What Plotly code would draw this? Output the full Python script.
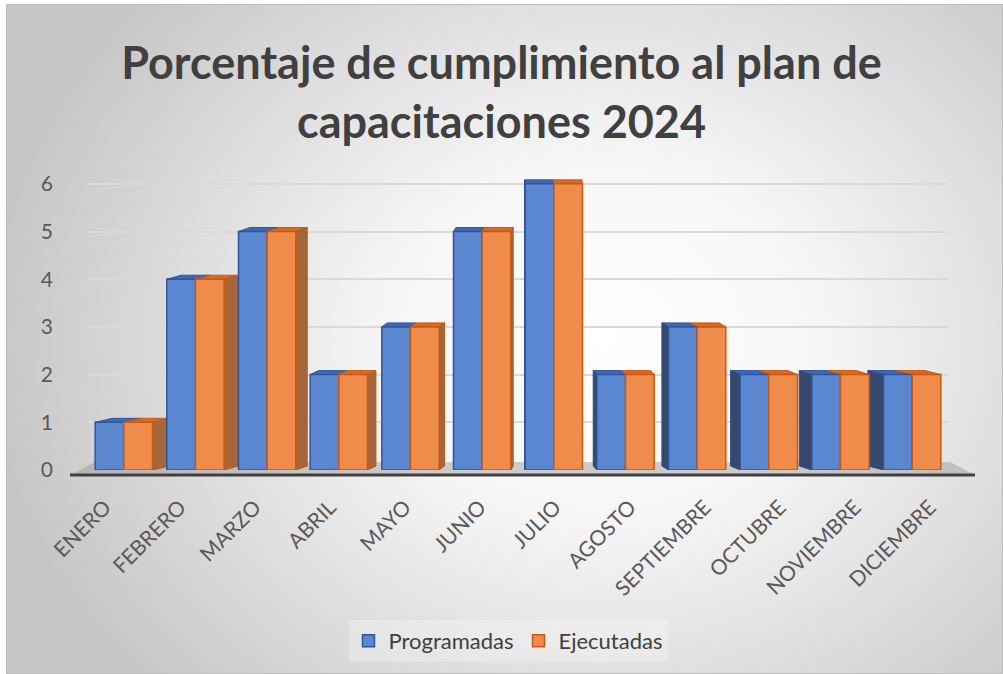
import base64
import plotly.graph_objects as go

# Monthly training sessions: planned vs. delivered
meses = ["ENERO", "FEBRERO", "MARZO", "ABRIL", "MAYO", "JUNIO",
         "JULIO", "AGOSTO", "SEPTIEMBRE", "OCTUBRE", "NOVIEMBRE", "DICIEMBRE"]
programadas = [1, 4, 5, 2, 3, 5, 6, 2, 3, 2, 2, 2]
ejecutadas = [1, 4, 5, 2, 3, 5, 6, 2, 3, 2, 2, 2]
y_ticks = [0, 1, 2, 3, 4, 5, 6]

W, H = 1003, 674
L, R, T, B = 88, 55, 160, 204
PW, PH = W - L - R, H - T - B
Y_MAX = 6.5
BARGAP = 0.2


def px_x(x):
    return (x - L) / PW


def px_y(y):
    return (H - B - y) / PH


# soft radial gradient used as the chart-area background
svg = """<svg xmlns='http://www.w3.org/2000/svg' width='997' height='670' viewBox='0 0 997 670' preserveAspectRatio='none'>
<defs><radialGradient id='g' cx='0.6' cy='0.5' r='0.62' gradientTransform='translate(0.6 0.5) scale(1 1.25) translate(-0.6 -0.5)'>
<stop offset='0' stop-color='#ffffff'/><stop offset='0.35' stop-color='#f6f6f6'/>
<stop offset='1' stop-color='#c6c6c6'/></radialGradient></defs>
<rect x='0' y='0' width='997' height='670' fill='url(#g)'/>
<rect x='0.5' y='0.5' width='996' height='669' fill='none' stroke='#bdbdbd' stroke-width='1'/>
</svg>"""
bg_src = "data:image/svg+xml;base64," + base64.b64encode(svg.encode()).decode()

fig = go.Figure()
fig.add_trace(go.Bar(
    x=meses, y=programadas, name="Programadas",
    marker=dict(color="#5B87D0", line=dict(color="#2F55A0", width=1.5)),
))
fig.add_trace(go.Bar(
    x=meses, y=ejecutadas, name="Ejecutadas",
    marker=dict(color="#EF8B4B", line=dict(color="#C9590F", width=1.5)),
))
# category labels sit on a slightly wider, perspective-like label axis
fig.add_trace(go.Scatter(
    x=meses, y=programadas, xaxis="x2", mode="markers",
    marker=dict(opacity=0), showlegend=False, hoverinfo="skip",
))

# pseudo-3D depth faces for each column pair (side + top), derived from the values
cat_px = PW / len(meses)          # pixels per category
val_px = PH / Y_MAX               # pixels per value unit
half = (1 - BARGAP) / 2           # half of a group's width in category units
rise = 4 / val_px                 # vertical depth offset in value units


def poly(pts):
    return "M " + " L ".join(f"{x},{y}" for x, y in pts) + " Z"


depth_shapes = []
for i, (vp, ve) in enumerate(zip(programadas, ejecutadas)):
    shift = 3.0 * (5.8 - i) / cat_px   # horizontal depth offset in category units
    xl, xm, xr = i - half, i, i + half
    # top faces
    depth_shapes.append(dict(
        type="path", xref="x", yref="y", layer="between",
        path=poly([(xl, vp), (xl + shift, vp + rise), (xm + shift, vp + rise), (xm, vp)]),
        fillcolor="#3F69B4", line=dict(color="#2F55A0", width=1)))
    depth_shapes.append(dict(
        type="path", xref="x", yref="y", layer="between",
        path=poly([(xm, ve), (xm + shift, ve + rise), (xr + shift, ve + rise), (xr, ve)]),
        fillcolor="#D96A25", line=dict(color="#C9590F", width=1)))
    # visible side face
    if shift > 0:
        depth_shapes.append(dict(
            type="path", xref="x", yref="y", layer="between",
            path=poly([(xr, 0), (xr + shift, rise), (xr + shift, ve + rise), (xr, ve)]),
            fillcolor="#A6653B", line=dict(color="#B85A1A", width=1)))
    else:
        depth_shapes.append(dict(
            type="path", xref="x", yref="y", layer="between",
            path=poly([(xl, 0), (xl + shift, rise), (xl + shift, vp + rise), (xl, vp)]),
            fillcolor="#36486B", line=dict(color="#2F4F8A", width=1)))

# label axis: 75 px per category, first label anchored near x=105 px
lab_step = 75.0
lab_r0 = -(105 - L) / lab_step
lab_r1 = lab_r0 + PW / lab_step

# floor band and base line under the columns
floor_path = "M {x0},{y0} L {x1},{y0} L {x2},{y2} L {x3},{y2} Z".format(
    x0=px_x(70), y0=px_y(475), x1=px_x(975), x2=px_x(950), x3=px_x(95), y2=px_y(462))

fig.update_layout(
    width=W, height=H,
    margin=dict(l=L, r=R, t=T, b=B),
    paper_bgcolor="white",
    plot_bgcolor="rgba(0,0,0,0)",
    barmode="group", bargap=BARGAP, bargroupgap=0,
    title=dict(
        text="Porcentaje de cumplimiento al plan de<br>capacitaciones 2024",
        x=0.5, xref="container", xanchor="center",
        y=1 - 79 / H, yanchor="middle",
        font=dict(family="Lato", size=45, color="#404040", weight="bold"),
    ),
    font=dict(family="Lato", color="#595959"),
    xaxis=dict(
        showticklabels=False, showgrid=False, showline=False, ticks="",
        range=[-0.5, len(meses) - 0.5],
    ),
    xaxis2=dict(
        overlaying="x", anchor="y", side="bottom",
        type="category", categoryarray=meses, range=[lab_r0, lab_r1],
        tickangle=-45, tickfont=dict(size=21, color="#595959"),
        showgrid=False, showline=False, ticks="", zeroline=False,
        ticklabelstandoff=20,
    ),
    yaxis=dict(
        range=[0, Y_MAX], tickvals=y_ticks, ticktext=[str(v) for v in y_ticks],
        tickfont=dict(size=21, color="#595959"),
        showgrid=True, gridcolor="#d9d9d9", gridwidth=1.5,
        zeroline=False,
        ticklabelstandoff=34, showline=False,
    ),
    legend=dict(
        orientation="h", x=px_x(508), xanchor="center",
        y=px_y(641), yanchor="middle",
        font=dict(size=22, color="#404040"),
        bgcolor="rgba(255,255,255,0.25)",
        itemwidth=30,
    ),
    shapes=[
        dict(type="path", path=floor_path, xref="paper", yref="paper",
             fillcolor="rgba(150,150,150,0.45)", line=dict(width=0), layer="below"),
        dict(type="line", xref="paper", yref="paper",
             x0=px_x(70), x1=px_x(975), y0=px_y(475), y1=px_y(475),
             line=dict(color="#404040", width=3), layer="above"),
    ] + depth_shapes,
    images=[dict(
        source=bg_src, xref="paper", yref="paper",
        x=px_x(6), y=px_y(4), sizex=(W - 6) / PW, sizey=(H - 4) / PH,
        xanchor="left", yanchor="top", sizing="stretch", layer="below",
    )],
)

fig.write_html("out.html")
